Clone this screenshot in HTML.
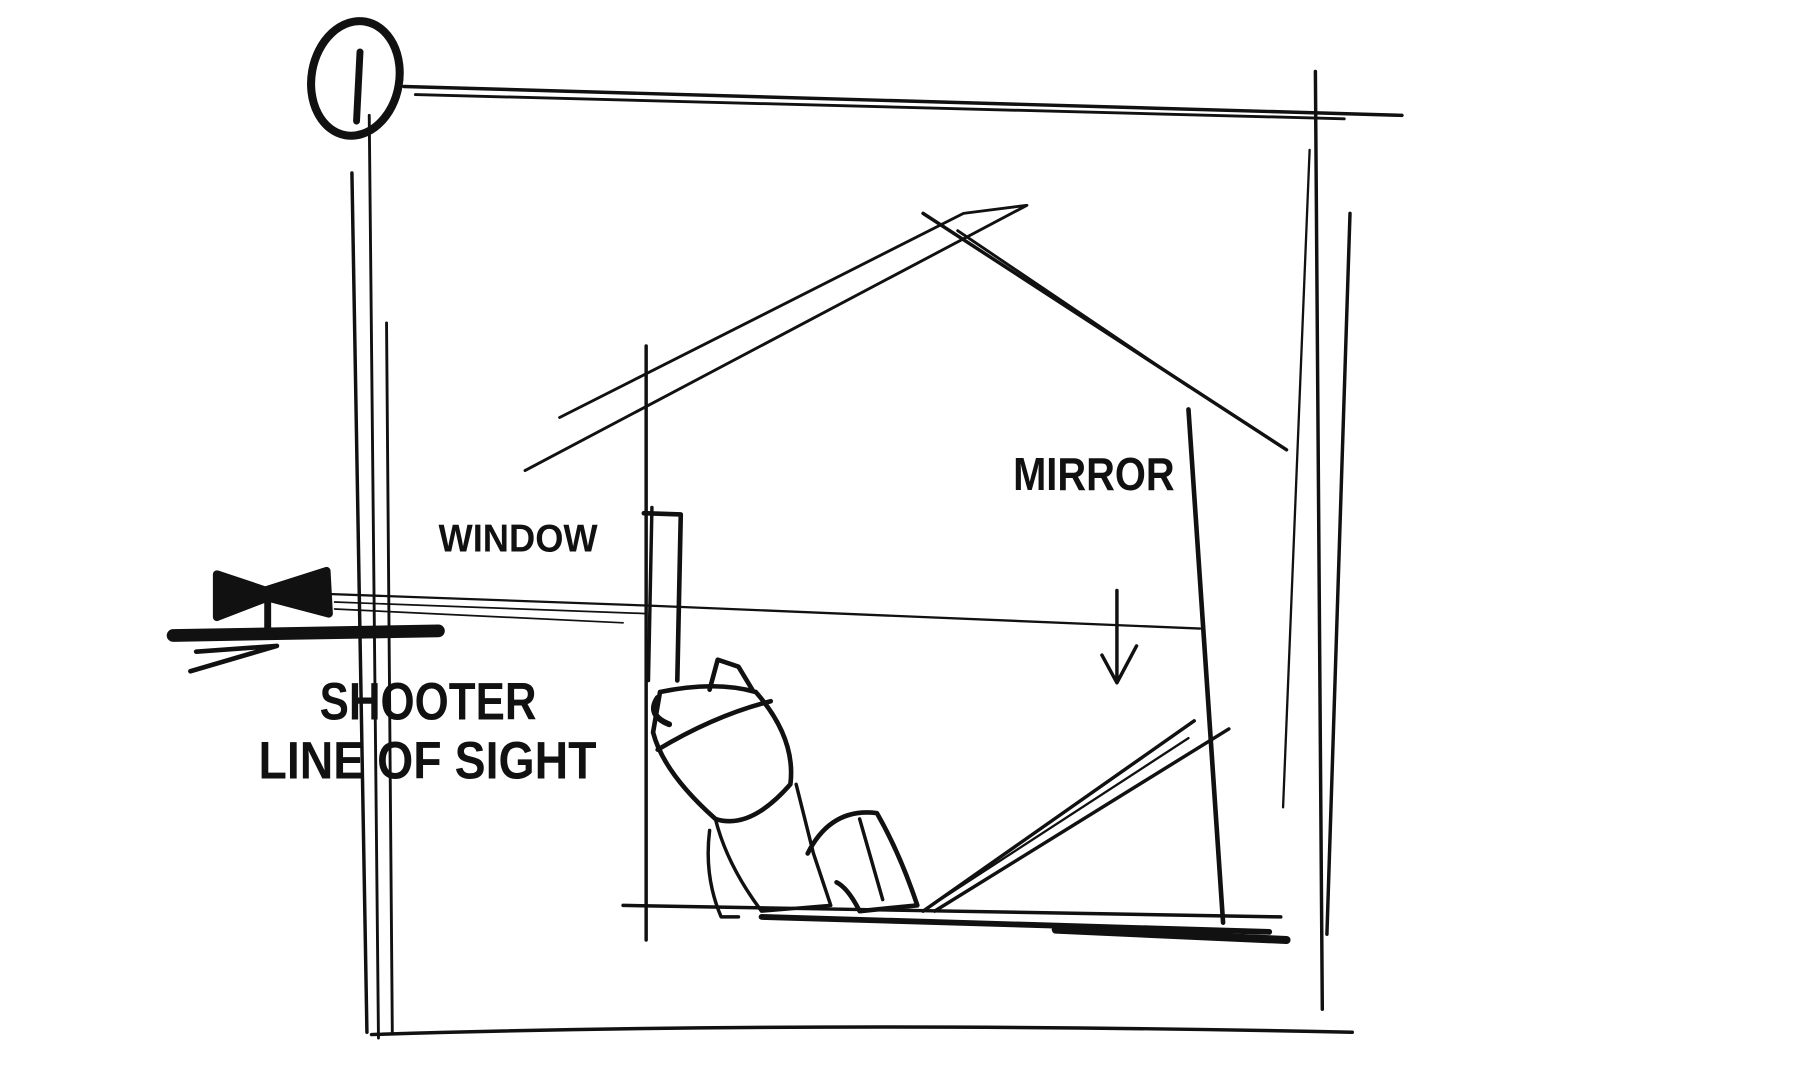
<!DOCTYPE html>
<html><head><meta charset="utf-8"><style>
html,body{margin:0;padding:0;background:#fff;}
svg{display:block}
text{font-family:"Liberation Sans Narrow","Liberation Sans",sans-serif;font-weight:bold;fill:#111;}
</style></head><body>
<svg width="1800" height="1083" viewBox="0 0 1560 939" preserveAspectRatio="none" xmlns="http://www.w3.org/2000/svg">
<g fill="none" stroke="#111" stroke-linecap="round" stroke-linejoin="round">
<!-- frame number circle -->
<ellipse cx="308" cy="68" rx="38" ry="50" stroke-width="7" transform="rotate(10 308 68)"/>
<path d="M312 45 L309 105" stroke-width="6"/>
<!-- top lines -->
<path d="M350 75 L1215 100" stroke-width="3"/>
<path d="M360 82 L1165 103" stroke-width="2.5"/>
<!-- left verticals -->
<path d="M305 150 L318 895" stroke-width="3"/>
<path d="M320 100 L328 900" stroke-width="2.5"/>
<path d="M335 280 L340 895" stroke-width="2.5"/>
<!-- right verticals -->
<path d="M1140 62 L1146 875" stroke-width="3"/>
<path d="M1170 185 L1150 810" stroke-width="3"/>
<path d="M1135 130 L1112 700" stroke-width="2"/>
<!-- bottom -->
<path d="M322 897 Q700 885 1172 895" stroke-width="3"/>
<!-- roof -->
<path d="M455 408 L890 178 L835 185 L485 362" stroke-width="2.5"/>
<path d="M800 185 L1115 390" stroke-width="3"/>
<path d="M830 200 L1030 335" stroke-width="2.5"/>
<!-- walls -->
<path d="M560 300 L560 815" stroke-width="3"/>
<path d="M565 440 L562 590" stroke-width="3"/>
<path d="M558 445 L590 446 L587 590" stroke-width="4"/>
<path d="M1030 355 L1060 800" stroke-width="4"/>
<!-- floor -->
<path d="M540 785 L1110 795" stroke-width="3"/>
<path d="M660 795 L1100 808" stroke-width="5"/>
<path d="M915 806 L1115 815" stroke-width="7"/>
<!-- mirror -->
<path d="M800 790 L1035 625" stroke-width="3"/>
<path d="M810 790 L1065 632" stroke-width="3"/>
<path d="M815 780 L1030 640" stroke-width="2"/>
<!-- arrow -->
<path d="M968 512 L968 592 M955 568 L968 592 L985 560" stroke-width="3"/>
<!-- line of sight -->
<path d="M285 515 L560 525 L1040 545" stroke-width="2"/>
<path d="M290 522 L560 532" stroke-width="1.5"/>
<path d="M290 528 L540 540" stroke-width="1.5"/>
<!-- shooter -->
<path d="M150 551 L380 547" stroke-width="11"/>
<path d="M165 582 L240 560 L170 565" stroke-width="4"/>
<path d="M188 498 L230 512 L283 495 L285 532 L232 518 L188 535 Z" stroke-width="7" fill="#111"/>
<path d="M232 518 L232 545" stroke-width="6"/>
<!-- person -->
<path d="M570 605 Q560 620 580 628" stroke-width="5"/>
<path d="M572 600 Q620 590 655 600 Q690 640 685 680 Q650 720 620 710 Q575 670 566 635 Z" stroke-width="4"/>
<path d="M570 650 Q620 620 668 608" stroke-width="4"/>
<path d="M615 598 L622 572 L640 578 L652 598" stroke-width="4"/>
<path d="M620 710 Q630 750 660 790 L720 785 L705 740 Q700 720 690 680" stroke-width="3"/>
<path d="M700 740 Q720 700 760 705 Q780 740 795 785 L745 790 Q735 770 725 765" stroke-width="4"/>
<path d="M615 720 Q610 760 625 795 L640 795" stroke-width="3"/>
<path d="M745 710 L765 780" stroke-width="3"/>
</g>
<text x="878" y="425" font-size="40" textLength="140" lengthAdjust="spacingAndGlyphs">MIRROR</text>
<text x="380" y="478" font-size="34" textLength="138" lengthAdjust="spacingAndGlyphs">WINDOW</text>
<text x="277" y="624" font-size="46" textLength="188" lengthAdjust="spacingAndGlyphs">SHOOTER</text>
<text x="224" y="675" font-size="46" textLength="293" lengthAdjust="spacingAndGlyphs">LINE OF SIGHT</text>
</svg>
</body></html>
